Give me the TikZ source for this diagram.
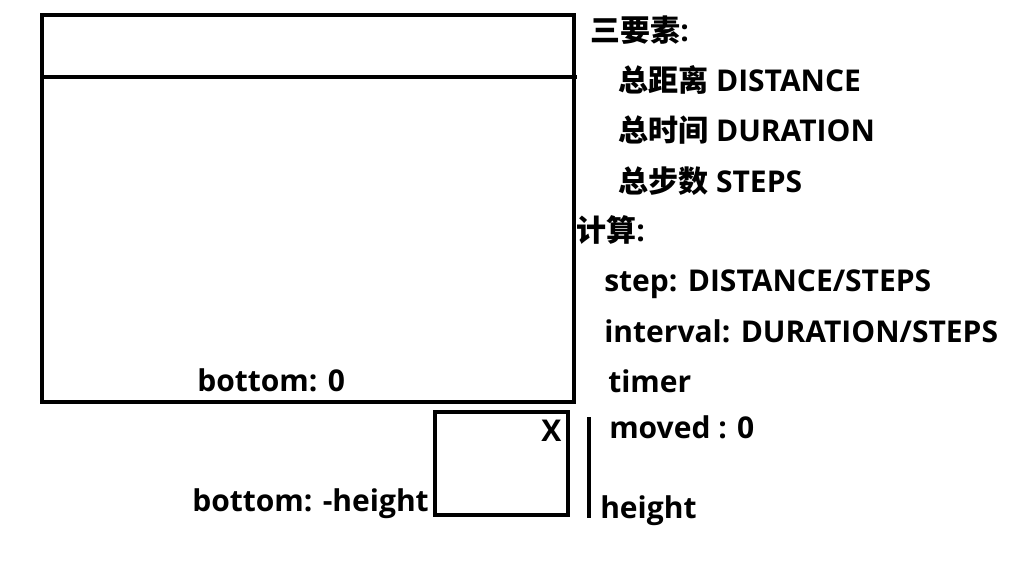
\documentclass[tikz,border=0pt]{standalone}
\usepackage{fontspec}
\setmainfont{Open Sans}
\newfontfamily\cjk{Noto Sans CJK SC}
\tikzstyle{frame}=[draw,line width=3.5pt]
\tikzstyle{txt}=[anchor=base west,inner sep=0pt,font=\fontsize{22.5}{26}\selectfont\bfseries]

\begin{document}
\begin{tikzpicture}[x=0.75pt,y=-0.75pt]
  \useasboundingbox (0,0) rectangle (1018,561);
  % screen and its top bar
  \draw[frame] (42,15) rectangle (574,402);
  \draw[frame] (42,77) -- (577,77);
  % box below the screen
  \draw[frame] (435,412) rectangle (568,515);
  \draw[frame] (589,417) -- (589,518);

  \node[txt] (three) at (590,41) {{\cjk 三要素}:};
  \node[txt] (dist) at (618,91) {{\cjk 总距离} DISTANCE};
  \node[txt] (dur) at (618,141) {{\cjk 总时间} DURATION};
  \node[txt] (steps) at (618,192) {{\cjk 总步数} STEPS};
  \node[txt] (calc) at (576,241) {{\cjk 计算}:};
  \node[txt] (step) at (604,291) {step: DISTANCE/STEPS};
  \node[txt] (intv) at (604,342) {interval: DURATION/STEPS};
  \node[txt] (timer) at (608,392) {timer};
  \node[txt] (moved) at (609,438) {moved : 0};
  \node[txt] (height) at (600,518) {height};
  \node[txt] (bot0) at (197,391) {bottom: 0};
  \node[txt] (both) at (192,511) {bottom: -height};
  \node[txt] (x) at (541,441) {X};
\end{tikzpicture}
\end{document}
